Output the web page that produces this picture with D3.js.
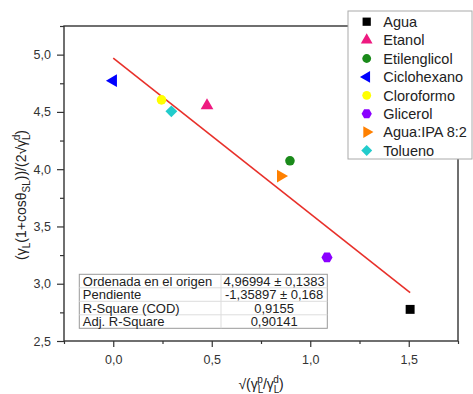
<!DOCTYPE html>
<html>
<head>
<meta charset="utf-8">
<script src="https://cdn.jsdelivr.net/npm/d3@7"></script>
<style>
  body { margin: 0; background: #fff; }
  svg { font-family: Arial, "Liberation Sans", sans-serif; }
</style>
</head>
<body>
<div id="chart"></div>
<script>
var windowsWidth = 473,
  windowsHeight = 394,
  margin = { top: 26, right: 15, bottom: 53, left: 64 },
  width = windowsWidth - margin.left - margin.right,
  height = windowsHeight - margin.top - margin.bottom;

// data
var solvents = ["Agua", "Etanol", "Etilenglicol", "Ciclohexano", "Cloroformo", "Glicerol", "Agua:IPA 8:2", "Tolueno"],
  xValues = [1.507, 0.476, 0.897, 0.0, 0.245, 1.085, 0.85, 0.295],
  yValues = [2.776, 4.555, 4.073, 4.773, 4.605, 3.23, 3.94, 4.505],
  colors = ["#000000", "#ee1a80", "#1a8a1a", "#0000ff", "#ffff00", "#8a00ff", "#ff8000", "#22cccc"],
  shapes = ["square", "triangle", "circle", "left", "circle", "hexagon", "right", "diamond"],
  fitIntercept = 4.96994,
  fitSlope = -1.35897,
  xMajorTicks = [0, 0.5, 1.0, 1.5],
  xMinorTicks = [-0.25, 0.25, 0.75, 1.25, 1.75],
  yMajorTicks = [2.5, 3.0, 3.5, 4.0, 4.5, 5.0],
  yMinorTicks = [2.75, 3.25, 3.75, 4.25, 4.75, 5.25],
  tableLabels = ["Ordenada en el origen", "Pendiente", "R-Square (COD)", "Adj. R-Square"],
  tableValues = ["4,96994 ± 0,1383", "-1,35897 ± 0,168", "0,9155", "0,90141"];

var fmt = d3.formatLocale({ decimal: ",", thousands: ".", grouping: [3], currency: ["", ""] }).format(".1f");

var x = d3.scaleLinear().domain([-0.25, 1.75]).range([0, width]);
var y = d3.scaleLinear().domain([2.5, 5.25]).range([height, 0]);

var hexagon = {
  draw: function(context, size) {
    var r = Math.sqrt(size / (1.5 * Math.sqrt(3)));
    for (var k = 0; k < 6; ++k) {
      var a = k * Math.PI / 3;
      if (k == 0) context.moveTo(r * Math.cos(a), r * Math.sin(a));
      else context.lineTo(r * Math.cos(a), r * Math.sin(a));
    }
    context.closePath();
  }
};

function symbolPath(shape, scale) {
  var s = scale || 1;
  if (shape == "square") return d3.symbol(d3.symbolSquare, 80 * s)();
  if (shape == "diamond") return d3.symbol(d3.symbolSquare, 70 * s)();
  if (shape == "circle") return d3.symbol(d3.symbolCircle, 72 * s)();
  if (shape == "hexagon") return d3.symbol(hexagon, 80 * s)();
  return d3.symbol(d3.symbolTriangle, 70 * s)();
}
function symbolRotate(shape) {
  if (shape == "left") return 30;
  if (shape == "right") return 90;
  if (shape == "diamond") return 45;
  return 0;
}

var svg = d3.select("div#chart").append("svg")
  .attr("width", windowsWidth)
  .attr("height", windowsHeight)
  .append("g")
  .attr("transform", "translate(" + margin.left + "," + margin.top + ")");

// axes
var xAxis = svg.append("g")
  .attr("transform", "translate(0," + height + ")")
  .call(d3.axisBottom(x).tickValues(xMajorTicks).tickFormat(fmt).tickSize(6).tickPadding(8));
svg.append("g")
  .attr("transform", "translate(0," + height + ")")
  .call(d3.axisBottom(x).tickValues(xMinorTicks).tickFormat("").tickSize(3));
var yAxis = svg.append("g")
  .call(d3.axisLeft(y).tickValues(yMajorTicks).tickFormat(fmt).tickSize(7).tickPadding(6));
svg.append("g")
  .call(d3.axisLeft(y).tickValues(yMinorTicks).tickFormat("").tickSize(4));

svg.selectAll(".domain").remove();
svg.selectAll(".tick line").attr("stroke", "#333").attr("stroke-width", 1.2);
svg.selectAll(".tick text").attr("fill", "#333").style("font-size", "12.5px");

svg.append("rect")
  .attr("width", width)
  .attr("height", height)
  .attr("fill", "none")
  .attr("stroke", "#333")
  .attr("stroke-width", 1.4);

// fit line
var xFit = d3.extent(xValues);
svg.append("line")
  .attr("x1", x(xFit[0]))
  .attr("y1", y(fitIntercept + fitSlope * xFit[0]))
  .attr("x2", x(xFit[1]))
  .attr("y2", y(fitIntercept + fitSlope * xFit[1]))
  .attr("stroke", "#e8302a")
  .attr("stroke-width", 1.6);

// points
svg.selectAll(".point")
  .data(solvents)
  .enter()
  .append("path")
  .attr("class", "point")
  .attr("d", function(d, i){ return symbolPath(shapes[i]); })
  .attr("transform", function(d, i){
    return "translate(" + x(xValues[i]) + "," + y(yValues[i]) + ") rotate(" + symbolRotate(shapes[i]) + ")"; })
  .style("fill", function(d, i){ return colors[i]; });

// legend
var legend = svg.append("g")
  .attr("transform", "translate(" + (284 - margin.left + 64) + "," + (-15) + ")");
legend.append("rect")
  .attr("width", 124)
  .attr("height", 148)
  .attr("fill", "#fff")
  .attr("stroke", "#aaa")
  .attr("stroke-width", 1);
var items = legend.selectAll(".item")
  .data(solvents).enter().append("g")
  .attr("class", "item")
  .attr("transform", function(d, i){ return "translate(0," + (10.7 + i * 18.4) + ")"; });
items.append("path")
  .attr("d", function(d, i){ return symbolPath(shapes[i], 0.85); })
  .attr("transform", function(d, i){ return "translate(18.7,0) rotate(" + symbolRotate(shapes[i]) + ")"; })
  .style("fill", function(d, i){ return colors[i]; });
items.append("text")
  .attr("x", 35.3)
  .attr("dy", "0.36em")
  .style("font-size", "14.5px")
  .attr("fill", "#222")
  .text(function(d){ return d; });

// parameter table
var tx = 79.3 - margin.left, ty = 274.3 - margin.top, tw = 248, rowH = 13.5, colX = 221 - margin.left;
var table = svg.append("g").attr("transform", "translate(" + tx + "," + ty + ")");
table.append("rect")
  .attr("width", tw)
  .attr("height", rowH * tableLabels.length)
  .attr("fill", "#fff")
  .attr("stroke", "#999");
table.selectAll(".rowline")
  .data(d3.range(1, tableLabels.length)).enter().append("line")
  .attr("x1", 0).attr("x2", tw)
  .attr("y1", function(d){ return d * rowH; })
  .attr("y2", function(d){ return d * rowH; })
  .attr("stroke", "#ddd");
table.append("line")
  .attr("x1", colX - tx).attr("x2", colX - tx)
  .attr("y1", 0).attr("y2", rowH * tableLabels.length)
  .attr("stroke", "#ddd");
table.selectAll(".tlabel")
  .data(tableLabels).enter().append("text")
  .attr("x", 3.5)
  .attr("y", function(d, i){ return (i + 0.5) * rowH; })
  .attr("dy", "0.36em")
  .style("font-size", "13px")
  .attr("fill", "#222")
  .text(function(d){ return d; });
table.selectAll(".tvalue")
  .data(tableValues).enter().append("text")
  .attr("x", (colX - tx + tw) / 2)
  .attr("y", function(d, i){ return (i + 0.5) * rowH; })
  .attr("dy", "0.36em")
  .style("text-anchor", "middle")
  .style("font-size", "13px")
  .attr("fill", "#222")
  .text(function(d){ return d; });

// axis titles
var xt = svg.append("text")
  .attr("x", width / 2)
  .attr("y", height + 48)
  .style("text-anchor", "middle")
  .style("font-size", "14px")
  .attr("fill", "#222");
xt.append("tspan").text("√(γ");
xt.append("tspan").attr("dy", 4).style("font-size", "10px").text("L");
xt.append("tspan").attr("dx", -6).attr("dy", -10).style("font-size", "10px").text("p");
xt.append("tspan").attr("dy", 6).text("/γ");
xt.append("tspan").attr("dy", 4).style("font-size", "10px").text("L");
xt.append("tspan").attr("dx", -6).attr("dy", -10).style("font-size", "10px").text("d");
xt.append("tspan").attr("dy", 6).text(")");

var yt = svg.append("text")
  .attr("transform", "translate(" + (-38) + "," + (195 - margin.top) + ") rotate(-90)")
  .style("text-anchor", "middle")
  .style("font-size", "14px")
  .attr("fill", "#222");
yt.append("tspan").text("(γ");
yt.append("tspan").attr("dy", 4).style("font-size", "10px").text("L");
yt.append("tspan").attr("dy", -4).text("(1+cosθ");
yt.append("tspan").attr("dy", 4).style("font-size", "10px").text("SL");
yt.append("tspan").attr("dy", -4).text("))/(2√γ");
yt.append("tspan").attr("dy", 4).style("font-size", "10px").text("L");
yt.append("tspan").attr("dx", -6).attr("dy", -10).style("font-size", "10px").text("d");
yt.append("tspan").attr("dy", 6).text(")");
</script>
</body>
</html>
